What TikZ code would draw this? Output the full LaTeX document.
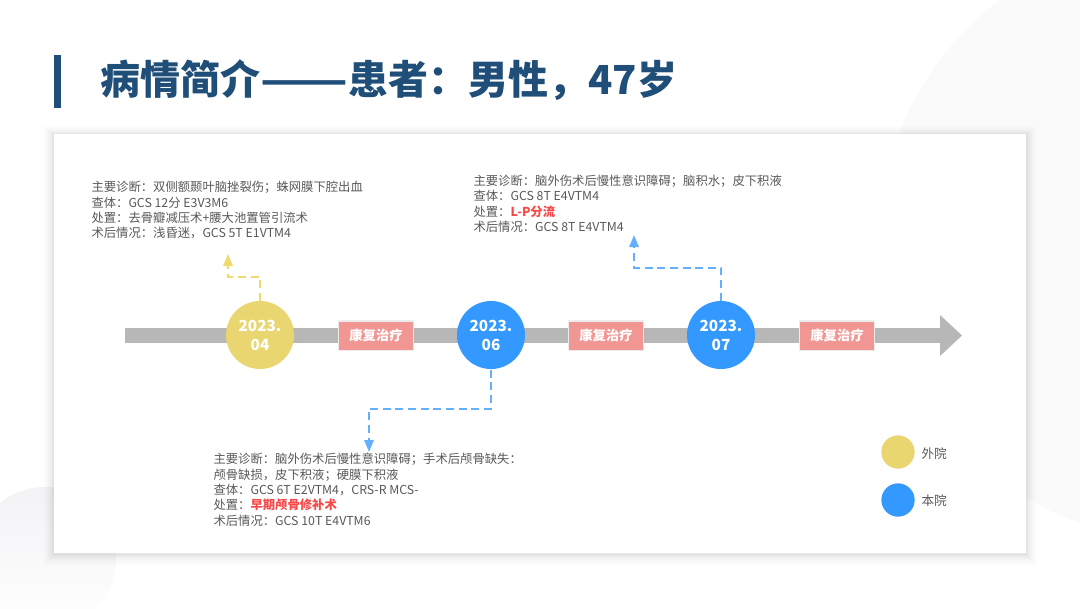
\documentclass[tikz,border=0pt]{standalone}
\usepackage{fontspec}
\setmainfont{Noto Sans CJK SC}
\usetikzlibrary{arrows.meta}

\definecolor{titleblue}{RGB}{31,78,121}
\definecolor{dotyellow}{RGB}{233,214,112}
\definecolor{dotblue}{RGB}{51,153,255}
\definecolor{linkblue}{RGB}{100,176,255}
\definecolor{linkyellow}{RGB}{238,218,110}
\definecolor{bargray}{RGB}{183,183,183}
\definecolor{curepink}{RGB}{241,150,147}
\definecolor{cureedge}{RGB}{236,236,236}
\definecolor{notegray}{RGB}{89,89,89}
\definecolor{hired}{RGB}{250,72,72}
\definecolor{bgpale}{RGB}{250,250,251}
\definecolor{bgpaler}{RGB}{243,243,246}

\tikzset{every picture/.style={line width=0.75pt}}
\tikzset{
  datedot/.style={circle, inner sep=0pt, minimum size=51pt, text=white, align=center,
    font=\bfseries\fontsize{11.5}{14.3}\selectfont},
  curebox/.style={rectangle, inner sep=0pt, minimum width=56pt, minimum height=22pt,
    fill=curepink, draw=cureedge, line width=1pt, text=white,
    font=\bfseries\fontsize{10}{12}\selectfont},
  notetext/.style={anchor=north west, inner sep=0pt, align=left, text=notegray,
    font=\fontsize{9.25}{11.5}\selectfont},
  keydot/.style={circle, inner sep=0pt, minimum size=25pt},
  keytext/.style={anchor=west, inner sep=0pt, text=notegray, font=\fontsize{9.5}{11}\selectfont},
  link/.style={line width=1.5pt, dash pattern=on 6pt off 3.5pt, -{Triangle[length=9pt,width=7pt]}}
}

\begin{document}
\begin{tikzpicture}[x=0.75pt,y=0.75pt,yscale=-1]
\useasboundingbox (0,0) rectangle (1080,608);

%Background shapes
\fill[white] (0,0) rectangle (1080,608);
\fill[bgpale] (1180,240) circle (300);
\shade[top color=bgpaler, bottom color=white] (45,558) circle (71);

%Title bar
\fill[titleblue] (54,55) rectangle (61,108);
% Text Node
\node (title) at (100,80) [anchor=west, inner sep=0pt, text=titleblue, font=\bfseries\fontsize{30}{33}\selectfont] {病情简介\scalebox{1.28}[1]{——}患者：男性，47岁};

%Card with shadow
\fill[black, opacity=0.012] (44,126) rectangle (1036,566);
\fill[black, opacity=0.015] (46,128) rectangle (1034,563);
\fill[black, opacity=0.02] (48,130) rectangle (1032,560);
\fill[black, opacity=0.025] (50,132) rectangle (1030,558);
\fill[black, opacity=0.03] (52,133) rectangle (1028,556);
\fill[white] (54,134) rectangle (1026,553);

%Timeline
\fill[bargray] (125,328) rectangle (941,343);
\fill[bargray] (940,315) -- (962,335.5) -- (940,356) -- cycle;

%Date circles
\node (d1) at (260,335) [datedot, fill=dotyellow] {2023.\\04};
\node (d2) at (491,335) [datedot, fill=dotblue] {2023.\\06};
\node (d3) at (721,335) [datedot, fill=dotblue] {2023.\\07};

%Rehab boxes
\node (r1) at (376,335.5) [curebox] {康复治疗};
\node (r2) at (606,335.5) [curebox] {康复治疗};
\node (r3) at (837,335.5) [curebox] {康复治疗};

% Text Node
\node (t1) at (91,181) [notetext] {主要诊断：双侧额颞叶脑挫裂伤；蛛网膜下腔出血\\查体：GCS 12分 E3V3M6\\处置：去骨瓣减压术+腰大池置管引流术\\术后情况：浅昏迷，GCS 5T E1VTM4};
% Text Node
\node (t2) at (473,174.5) [notetext] {主要诊断：脑外伤术后慢性意识障碍；脑积水；皮下积液\\查体：GCS 8T E4VTM4\\处置：\textcolor{hired}{\bfseries L-P分流}\\术后情况：GCS 8T E4VTM4};
% Text Node
\node (t3) at (213,453) [notetext] {主要诊断：脑外伤术后慢性意识障碍；手术后颅骨缺失：\\颅骨缺损，皮下积液；硬膜下积液\\查体：GCS 6T E2VTM4，CRS-R MCS-\\处置：\textcolor{hired}{\bfseries 早期颅骨修补术}\\术后情况：GCS 10T E4VTM6};

%Dashed links
\coordinate (n1) at (228,254);
\coordinate (n2) at (369,452);
\coordinate (n3) at (634,235);
\draw[link, linkyellow] (d1.north) -- ++(0,-24) -| (n1);
\draw[link, linkblue] (d2.south) -- ++(0,39) -| (n2);
\draw[link, linkblue] (d3.north) -- ++(0,-33) -| (n3);

%Legend
\node (k1) at (898,452) [keydot, fill=dotyellow] {};
\node (k2) at (898,500) [keydot, fill=dotblue] {};
% Text Node
\node (l1) at (921,454) [keytext] {外院};
% Text Node
\node (l2) at (921,501) [keytext] {本院};

\end{tikzpicture}
\end{document}
